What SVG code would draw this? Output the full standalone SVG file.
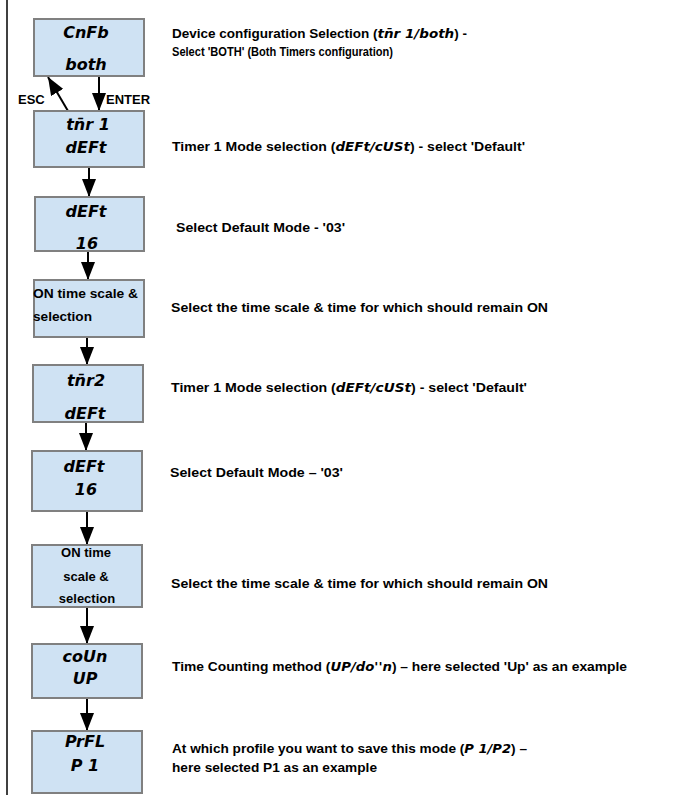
<svg xmlns="http://www.w3.org/2000/svg" width="697" height="795" viewBox="0 0 697 795">
<style>
.bg{fill:#ffffff}
.box{fill:#cfe2f3;stroke:#808080;stroke-width:2}
.seg{font-family:"DejaVu Sans",sans-serif;font-weight:bold;font-style:oblique;font-size:16px;fill:#000}
.segi{font-family:"DejaVu Sans",sans-serif;font-weight:bold;font-style:oblique;font-size:12.5px}
.lbl{font-family:"Liberation Sans",Arial,sans-serif;font-weight:bold;font-size:13px;fill:#000}
.desc{font-family:"Liberation Sans",Arial,sans-serif;font-weight:bold;font-size:13px;fill:#000}
.desc.sm{font-size:12.5px}
.conn{stroke:#000;stroke-width:2;fill:none}
</style>
<defs>
<marker id="ahb" markerUnits="userSpaceOnUse" markerWidth="20" markerHeight="14" viewBox="0 0 20 14" refX="18" refY="7" orient="auto">
<path d="M0,0 L18,7 L0,14 Z" fill="#000"/>
</marker>
</defs>
<rect class="bg" x="0" y="0" width="697" height="795"/>
<line x1="7" y1="0" x2="7" y2="795" stroke="#000" stroke-width="1.5"/>

<g id="connectors">
<line class="conn" x1="99" y1="76" x2="99" y2="111" marker-end="url(#ahb)"/>
<line class="conn" x1="68" y1="111" x2="48" y2="77" marker-end="url(#ahb)"/>
<line class="conn" x1="89" y1="167" x2="89" y2="197" marker-end="url(#ahb)"/>
<line class="conn" x1="88" y1="251" x2="88" y2="280" marker-end="url(#ahb)"/>
<line class="conn" x1="87" y1="337" x2="87" y2="365" marker-end="url(#ahb)"/>
<line class="conn" x1="86" y1="422" x2="86" y2="451" marker-end="url(#ahb)"/>
<line class="conn" x1="87" y1="511" x2="87" y2="545" marker-end="url(#ahb)"/>
<line class="conn" x1="87" y1="607" x2="87" y2="644" marker-end="url(#ahb)"/>
<line class="conn" x1="87" y1="698" x2="87" y2="731" marker-end="url(#ahb)"/>
<text class="lbl" x="18" y="104">ESC</text>
<text class="lbl" x="106" y="104">ENTER</text>
</g>

<g id="n1">
<rect class="box" x="34" y="19" width="110" height="57"/>
<text class="seg" x="86" y="38" text-anchor="middle">CnFb</text>
<text class="seg" x="86" y="70" text-anchor="middle">both</text>
</g>
<g id="n2">
<rect class="box" x="34" y="111" width="110" height="56"/>
<text class="seg" x="88" y="130" text-anchor="middle">tn̄r 1</text>
<text class="seg" x="86" y="153" text-anchor="middle">dEFt</text>
</g>
<g id="n3">
<rect class="box" x="35" y="197" width="109" height="54"/>
<text class="seg" x="86" y="217" text-anchor="middle">dEFt</text>
<text class="seg" x="87" y="249" text-anchor="middle">16</text>
</g>
<g id="n4">
<rect class="box" x="34" y="280" width="110" height="57"/>
<text class="lbl" x="33" y="298" textLength="105" lengthAdjust="spacingAndGlyphs">ON time scale &amp;</text>
<text class="lbl" x="33" y="321" textLength="59" lengthAdjust="spacingAndGlyphs">selection</text>
</g>
<g id="n5">
<rect class="box" x="33" y="365" width="110" height="57"/>
<text class="seg" x="86" y="386" text-anchor="middle">tn̄r2</text>
<text class="seg" x="85" y="419" text-anchor="middle">dEFt</text>
</g>
<g id="n6">
<rect class="box" x="32" y="451" width="110" height="60"/>
<text class="seg" x="84" y="472" text-anchor="middle">dEFt</text>
<text class="seg" x="86" y="495" text-anchor="middle">16</text>
</g>
<g id="n7">
<rect class="box" x="32" y="545" width="110" height="62"/>
<text class="lbl" x="86" y="557" text-anchor="middle">ON time</text>
<text class="lbl" x="86" y="581" text-anchor="middle">scale &amp;</text>
<text class="lbl" x="87" y="603" text-anchor="middle">selection</text>
</g>
<g id="n8">
<rect class="box" x="32" y="644" width="110" height="54"/>
<text class="seg" x="85" y="662" text-anchor="middle">coUn</text>
<text class="seg" x="85" y="684" text-anchor="middle">UP</text>
</g>
<g id="n9">
<rect class="box" x="32" y="731" width="110" height="62"/>
<text class="seg" x="85" y="747" text-anchor="middle">PrFL</text>
<text class="seg" x="85" y="771" text-anchor="middle">P 1</text>
</g>

<g id="descriptions">
<text class="desc sm" x="172" y="38" textLength="295" lengthAdjust="spacingAndGlyphs">Device configuration Selection (<tspan class="segi">tn̄r 1/both</tspan>) -</text>
<text class="desc sm" x="172" y="56" textLength="221" lengthAdjust="spacingAndGlyphs">Select 'BOTH' (Both Timers configuration)</text>
<text class="desc" x="172" y="151" textLength="353" lengthAdjust="spacingAndGlyphs">Timer 1 Mode selection (<tspan class="segi">dEFt/cUSt</tspan>) - select 'Default'</text>
<text class="desc" x="176" y="232" textLength="169" lengthAdjust="spacingAndGlyphs">Select Default Mode - '03'</text>
<text class="desc" x="171" y="312" textLength="377" lengthAdjust="spacingAndGlyphs">Select the time scale &amp; time for which  should remain ON</text>
<text class="desc" x="171" y="392" textLength="356" lengthAdjust="spacingAndGlyphs">Timer 1 Mode selection (<tspan class="segi">dEFt/cUSt</tspan>) -  select 'Default'</text>
<text class="desc" x="170" y="477" textLength="173" lengthAdjust="spacingAndGlyphs">Select Default Mode – '03'</text>
<text class="desc" x="171" y="588" textLength="377" lengthAdjust="spacingAndGlyphs">Select the time scale &amp; time for which  should remain ON</text>
<text class="desc" x="172" y="671" textLength="455" lengthAdjust="spacingAndGlyphs">Time Counting method (<tspan class="segi">UP/do''n</tspan>) – here selected 'Up' as an example</text>
<text class="desc" x="172" y="753" textLength="355" lengthAdjust="spacingAndGlyphs">At which profile you want to save this mode (<tspan class="segi">P 1/P2</tspan>) –</text>
<text class="desc" x="172" y="772" textLength="205" lengthAdjust="spacingAndGlyphs">here selected P1 as an example</text>
</g>
</svg>
